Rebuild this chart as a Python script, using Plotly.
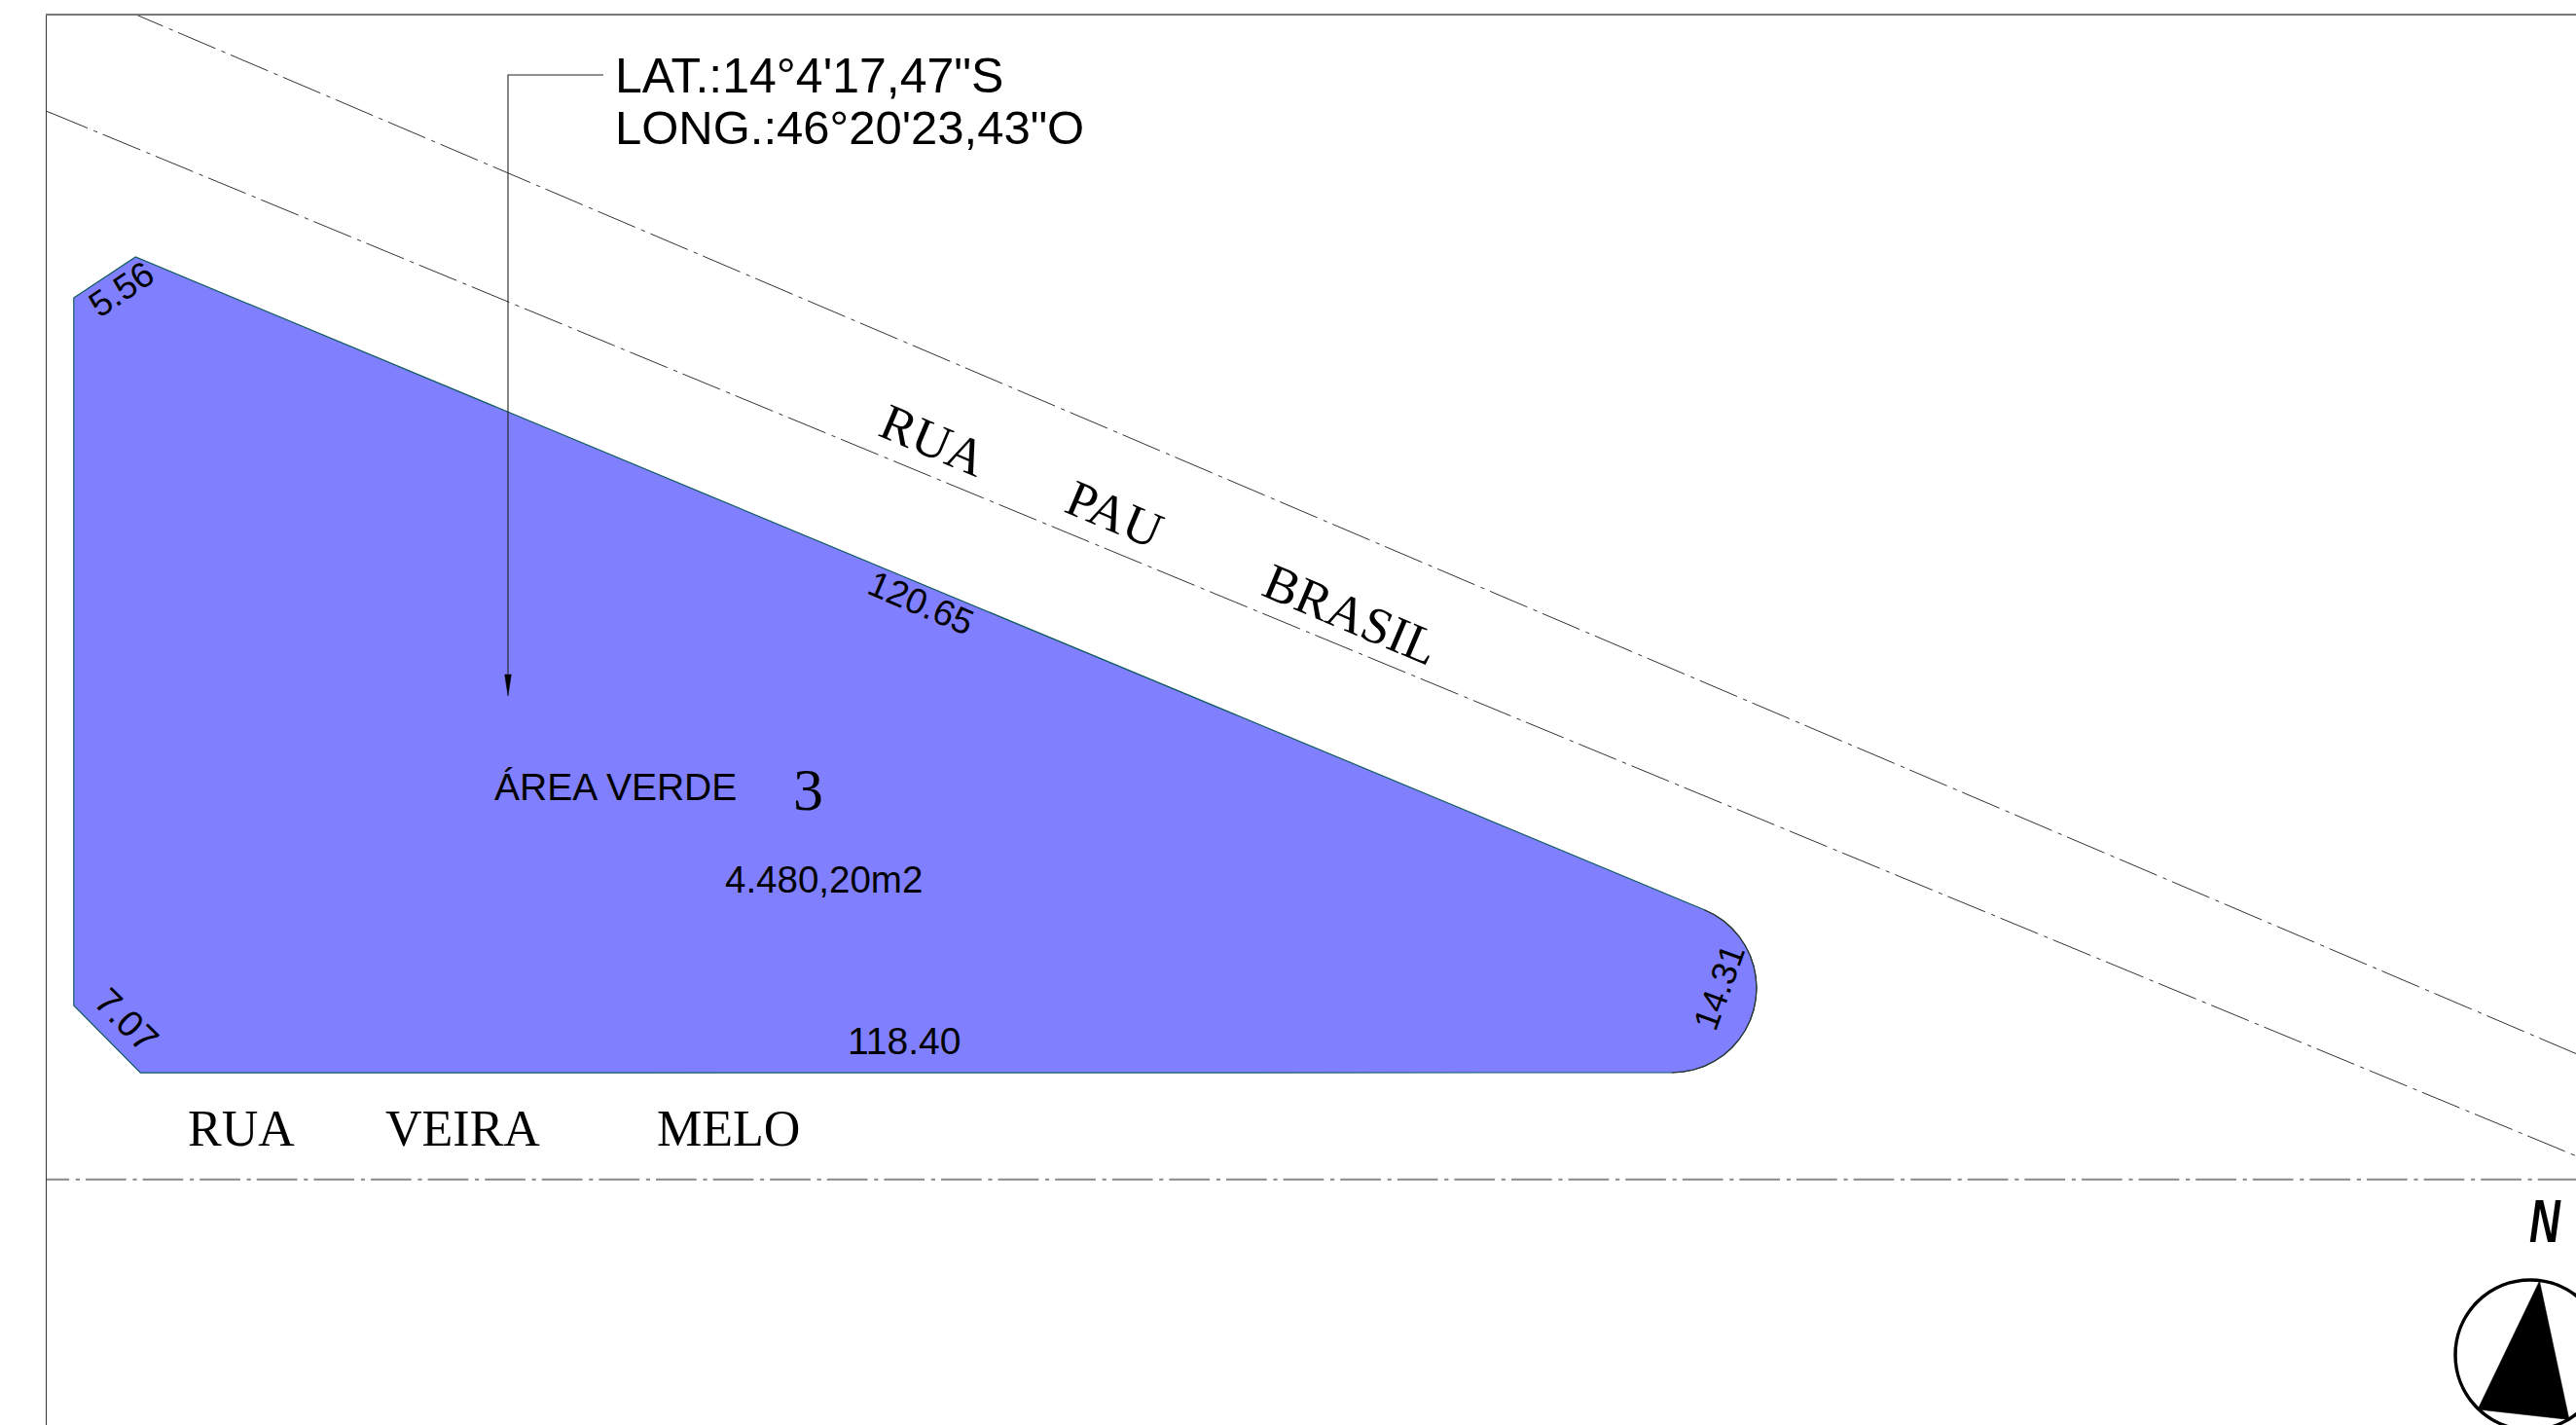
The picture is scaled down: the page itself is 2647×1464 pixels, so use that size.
import plotly.graph_objects as go

# All coordinates are in the sheet's own units (1 unit = 1 picture pixel)
PLOT_W, PLOT_H = 2647, 1464
FRAME_L, FRAME_T = 48, 16

lot_x = [75.8, 139.3, 1751.4, 1761.5, 1771.0, 1779.5, 1787.0, 1793.3, 1798.4, 1802.0, 1804.2, 1805.0,
         1804.2, 1802.0, 1798.4, 1793.3, 1787.0, 1779.5, 1771.0, 1761.5, 1751.3, 1740.5, 1729.4, 1718.0,
         144.3, 75.8, 75.8]
lot_y = [306, 264, 934.7, 939.7, 946.0, 953.5, 962.0, 971.5, 981.7, 992.5, 1003.6, 1015.0,
         1026.4, 1037.5, 1048.3, 1058.5, 1068.0, 1076.5, 1084.0, 1090.3, 1095.4, 1099.0, 1101.2, 1102.0,
         1102.2, 1033, 306]

road_a_x = [129.1, 2647]
road_a_y = [10.5, 1082.5]
road_b_x = [51.5, 2647]
road_b_y = [115.7, 1187.5]
road_b_stub_x = [48, 52]
road_b_stub_y = [114.3, 116]
road_c_x = [29.4, 2647]
road_c_y = [1211.7, 1211.7]

leader_x = [620, 522, 522]
leader_y = [77, 77, 700]
head_x = [518.7, 525.3, 522, 518.7]
head_y = [693, 693, 715, 693]

north_x = [2609.5, 2546, 2640, 2609.5]
north_y = [1316, 1448, 1458.5, 1316]

labels = ["LAT.:14°4'17,47\"S", "LONG.:46°20'23,43\"O", "ÁREA VERDE", "3", "4.480,20m2",
          "118.40", "120.65", "5.56", "7.07", "14.31",
          "RUA", "VEIRA", "MELO", "RUA", "PAU", "BRASIL"]
label_x = [630, 630, 632, 830, 846, 928.5, 946, 124, 130, 1766,
           247.5, 475, 748, 959, 1145, 1388]
label_y = [77.6, 131, 808.5, 811, 903, 1069, 619, 297, 1048, 1014,
           1159, 1159, 1159, 452, 527.5, 631]
label_angle = [0, 0, 0, 0, 0, 0, 23, -34, 45, -70, 0, 0, 0, 23, 23, 23]
label_size = [50, 49, 39, 62, 38.5, 39, 37, 36.5, 38, 36, 52, 52, 52, 53, 53, 53]
label_font = ["Liberation Sans"] * 3 + ["Liberation Serif"] + ["Liberation Sans"] * 6 + ["Liberation Serif"] * 6
label_anchor = ["left", "left"] + ["center"] * 14

fig = go.Figure()
fig.add_trace(go.Scatter(x=lot_x, y=lot_y, mode="lines", fill="toself", fillcolor="#8080ff",
                         line=dict(color="#0f5a5f", width=1.2)))
fig.add_trace(go.Scatter(x=lot_x[2:24], y=lot_y[2:24], mode="lines", line=dict(color="#333333", width=1.2)))
DASH = "41.7px,6.7px,4.2px,6px"
fig.add_trace(go.Scatter(x=road_a_x, y=road_a_y, mode="lines", line=dict(color="#333333", width=1, dash=DASH)))
fig.add_trace(go.Scatter(x=road_b_x, y=road_b_y, mode="lines", line=dict(color="#333333", width=1, dash=DASH)))
fig.add_trace(go.Scatter(x=road_b_stub_x, y=road_b_stub_y, mode="lines", line=dict(color="#333333", width=1)))
fig.add_trace(go.Scatter(x=road_c_x, y=road_c_y, mode="lines", line=dict(color="#888888", width=2, dash=DASH)))
fig.add_trace(go.Scatter(x=leader_x, y=leader_y, mode="lines", line=dict(color="#222222", width=1.1)))
fig.add_trace(go.Scatter(x=head_x, y=head_y, mode="lines", fill="toself", fillcolor="#000000",
                         line=dict(color="#000000", width=0.5)))
fig.add_trace(go.Scatter(x=north_x, y=north_y, mode="lines", fill="toself", fillcolor="#000000",
                         line=dict(color="#000000", width=0.5)))

for t, x, y, a, s, f, an in zip(labels, label_x, label_y, label_angle, label_size, label_font, label_anchor):
    fig.add_annotation(x=x, y=y, text=t, textangle=a, showarrow=False, xanchor=an, yanchor="middle",
                       font=dict(family=f, size=s, color="#000000"))
fig.add_annotation(x=2615.5, y=1254, text="<b><i>N</i></b>", showarrow=False, xanchor="center", yanchor="middle",
                   font=dict(family="Liberation Sans", size=63, color="#000000"))

fig.add_shape(type="circle", x0=2523, x1=2677, y0=1315, y1=1469,
              line=dict(color="#000000", width=3.5), layer="above")

fig.update_layout(width=PLOT_W, height=PLOT_H, showlegend=False, plot_bgcolor="#ffffff", paper_bgcolor="#ffffff",
                  margin=dict(l=FRAME_L, t=FRAME_T, r=0, b=0, pad=0),
                  xaxis=dict(range=[FRAME_L, PLOT_W], visible=True, showgrid=False, zeroline=False, showticklabels=False,
                             ticks="", side="top", showline=True, linecolor="#777777", linewidth=1.6),
                  yaxis=dict(range=[PLOT_H, FRAME_T], visible=True, showgrid=False, zeroline=False, showticklabels=False,
                             ticks="", showline=True, linecolor="#333333", linewidth=1.2))

narrow_n = """
document.body.style.margin='0';
setTimeout(function(){
  document.querySelectorAll('.annotation-text').forEach(function(t){
    if(t.textContent==='N'){
      t.style.transformBox='fill-box';
      t.style.transformOrigin='center';
      t.style.transform='scaleX(0.7)';
    }
  });
},100);
"""
fig.write_html("out.html", post_script=narrow_n, config={"displayModeBar": False})
